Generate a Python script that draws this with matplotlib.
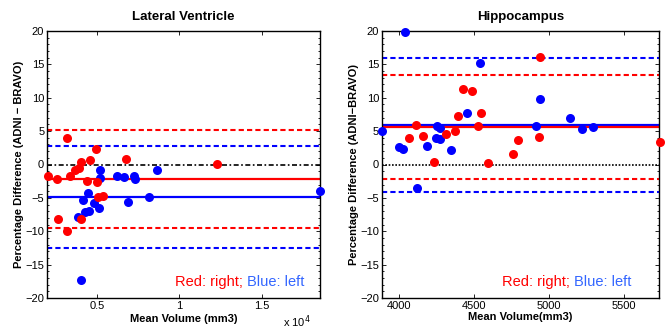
import numpy as np
import matplotlib
matplotlib.use("Agg")
import matplotlib.pyplot as plt
from matplotlib.ticker import MultipleLocator

plt.rcParams['font.family'] = ['Liberation Sans', 'DejaVu Sans']

# Lateral ventricle (mean volume mm3, percentage difference)
lv_right_x = [3161, 4008, 4595, 4940, 6730, 12296, 2035, 2598, 3342, 3687, 3887,
              4371, 5000, 5060, 5363, 2616, 3203, 4032]
lv_right_y = [3.92, 0.33, 0.67, 2.32, 0.82, 0.07, -1.72, -2.22, -1.72, -0.82, -0.48,
              -2.42, -2.57, -4.82, -4.72, -8.2, -10.0, -8.2]
lv_left_x = [5200, 5157, 6210, 6633, 7214, 7275, 8648, 4153, 4456, 4292, 4492,
             3869, 4818, 5121, 6876, 8164, 18510, 4008]
lv_left_y = [-0.82, -2.07, -1.67, -1.82, -1.67, -2.17, -0.82, -5.32, -4.32, -7.07, -6.97,
             -7.9, -5.82, -6.52, -5.67, -4.82, -3.97, -17.3]
lv_right_mean, lv_right_lim = -2.22, [5.17, -9.57]
lv_left_mean, lv_left_lim = -4.85, [2.82, -12.47]

# Hippocampus
hc_left_x = [3889, 4040, 4000, 4024, 4184, 4253, 4276, 4247, 4276, 4349, 4451,
             4538, 4913, 4940, 5140, 5218, 5289, 4122]
hc_left_y = [5.02, 19.8, 2.62, 2.37, 2.77, 5.82, 5.42, 3.92, 3.77, 2.22, 7.72,
             15.27, 5.77, 9.77, 6.92, 5.37, 5.62, -3.57]
hc_right_x = [4113, 4067, 4160, 4236, 4315, 4375, 4395, 4424, 4489, 4524, 4544,
              4595, 4758, 4791, 4935, 4938, 5735]
hc_right_y = [5.97, 3.97, 4.22, 0.3, 4.52, 5.07, 7.22, 11.3, 10.97, 5.82, 7.67,
              0.15, 1.57, 3.62, 4.17, 16.07, 3.42]
hc_right_mean, hc_right_lim = 5.65, [13.46, -2.17]
hc_left_mean, hc_left_lim = 5.9, [15.96, -4.12]

red = '#ff0000'
blue = '#0000ff'

fig = plt.figure(figsize=(6.67, 3.29), dpi=100)
ax1 = fig.add_axes([0.0705, 0.0942, 0.4093, 0.8116])
ax2 = fig.add_axes([0.5727, 0.0942, 0.4153, 0.8116])


def panel(ax, rx, ry, lx, ly, rmean, rlim, lmean, llim, zero_style, txt_x):
    ax.axhline(0, color='k', ls=zero_style, lw=1.2, zorder=1)
    ax.axhline(lmean, color=blue, lw=1.6, zorder=2)
    ax.axhline(rmean, color=red, lw=1.6, zorder=2)
    for v in llim:
        ax.axhline(v, color=blue, ls=(0, (2.5, 1.5)), lw=1.5, zorder=2)
    for v in rlim:
        ax.axhline(v, color=red, ls=(0, (2.5, 1.5)), lw=1.5, zorder=2)
    ax.plot(lx, ly, 'o', color=blue, ms=6.5, mec='none', zorder=3, clip_on=False)
    ax.plot(rx, ry, 'o', color=red, ms=6.5, mec='none', zorder=3, clip_on=False)
    ax.set_ylim(-20, 20)
    ax.yaxis.set_major_locator(MultipleLocator(5))
    ax.yaxis.set_minor_locator(MultipleLocator(1))
    ax.tick_params(which='both', direction='in', top=True, right=True, labelsize=8)
    ax.tick_params(which='major', length=3, width=0.6, pad=2)
    ax.tick_params(which='minor', length=1.5, width=0.6)
    ax.tick_params(axis='x', which='minor', bottom=False, top=False)
    for s in ax.spines.values():
        s.set_linewidth(1.0)
    ax.set_yticklabels([str(int(v)).replace('-', '\u2212') for v in ax.get_yticks()])
    # two-colour legend text
    r = ax.text(txt_x, 0.045, 'Red: right; ', color=red, fontsize=10.5,
                transform=ax.transAxes, ha='left')
    fig.canvas.draw()
    bb = r.get_window_extent().transformed(ax.transAxes.inverted())
    ax.text(bb.x1, 0.045, 'Blue: left', color='#3366ff', fontsize=10.5,
            transform=ax.transAxes, ha='left')


panel(ax1, lv_right_x, lv_right_y, lv_left_x, lv_left_y,
      lv_right_mean, lv_right_lim, lv_left_mean, lv_left_lim, (0, (3, 1.5, 1, 1.5)), 0.469)
panel(ax2, hc_right_x, hc_right_y, hc_left_x, hc_left_y,
      hc_right_mean, hc_right_lim, hc_left_mean, hc_left_lim, (0, (1, 1)), 0.433)

ax1.set_xlim(1970, 18520)
ax1.set_xticks([5000, 10000, 15000])
ax1.set_xticklabels(['0.5', '1', '1.5'])
ax1.text(0.965, -0.088, 'x 10$^4$', transform=ax1.transAxes, ha='right', va='center', fontsize=8)
ax1.set_title('Lateral Ventricle', fontsize=9.5, fontweight='bold', pad=8)
ax1.set_xlabel('Mean Volume (mm3)', fontsize=8, fontweight='bold', labelpad=2)
ax1.set_ylabel('Percentage Difference (ADNI \u2212 BRAVO)', fontsize=8, fontweight='bold', labelpad=1)

ax2.set_xlim(3887, 5731)
ax2.set_xticks([4000, 4500, 5000, 5500])
ax2.set_title('Hippocampus', fontsize=9.5, fontweight='bold', pad=8)
ax2.set_xlabel('Mean Volume(mm3)', fontsize=8, fontweight='bold', labelpad=1)
ax2.set_ylabel('Percentage Difference (ADNI\u2212BRAVO)', fontsize=8, fontweight='bold', labelpad=1)

fig.savefig('out.png', dpi=100)
